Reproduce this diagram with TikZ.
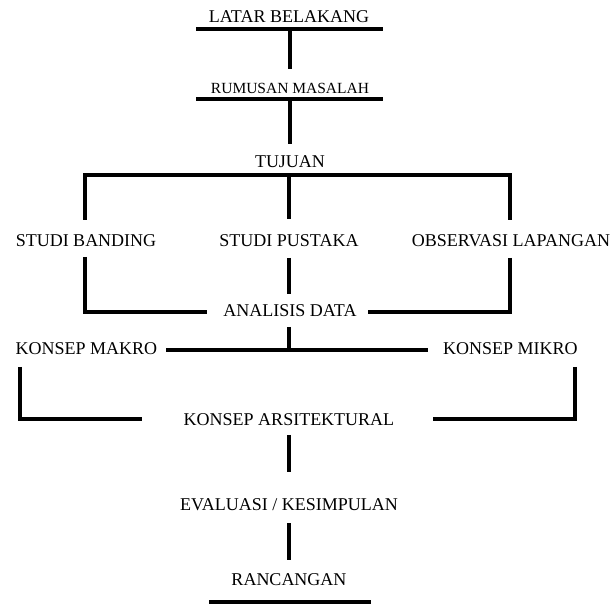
\documentclass[tikz,border=0pt]{standalone}
\usepackage{fontspec}
\setmainfont{Liberation Serif}
\begin{document}
\begin{tikzpicture}[x=1pt,y=-1pt,
  lbl/.style={anchor=base,inner sep=0pt,font=\fontsize{18}{20}\selectfont},
  lblsmall/.style={anchor=base,inner sep=0pt,font=\fontsize{15.5}{18}\selectfont},
  bar/.style={line width=4pt}]
\useasboundingbox (0,0) rectangle (614,604);
% nodes
\node[lbl] (lb) at (289,23) {LATAR BELAKANG};
\node[lblsmall] (rm) at (290,94) {RUMUSAN MASALAH};
\node[lbl] (tj) at (290,168) {TUJUAN};
\node[lbl] (sb) at (86,247) {STUDI BANDING};
\node[lbl] (sp) at (289,247) {STUDI PUSTAKA};
\node[lbl] (ol) at (511,247) {OBSERVASI LAPANGAN};
\node[lbl] (ad) at (290,317) {ANALISIS DATA};
\node[lbl] (kma) at (86.5,355) {KONSEP MAKRO};
\node[lbl] (kmi) at (510.5,355) {KONSEP MIKRO};
\node[lbl] (ka) at (289,425) {KONSEP ARSITEKTURAL};
\node[lbl] (ev) at (289,511) {EVALUASI / KESIMPULAN};
\node[lbl] (rc) at (289,585) {RANCANGAN};
% junction coordinates
\coordinate (lbL) at (196,29); \coordinate (lbR) at (383,29);
\coordinate (lbM) at (289.5,29); \coordinate (rmT) at (289.5,69);
\coordinate (rmL) at (196,99); \coordinate (rmR) at (383,99);
\coordinate (rmM) at (289.5,99); \coordinate (tjT) at (289.5,144);
\coordinate (sbT) at (85,220); \coordinate (tjL) at (85,175);
\coordinate (tjR) at (510,175); \coordinate (olT) at (510,220);
\coordinate (tjM) at (289,175); \coordinate (spT) at (289,219);
\coordinate (sbB) at (85,257); \coordinate (adBL) at (85,312); \coordinate (adL) at (207,312);
\coordinate (olB) at (510,258); \coordinate (adBR) at (510,312); \coordinate (adR) at (368,312);
\coordinate (spB) at (289,258); \coordinate (adT) at (289,294);
\coordinate (adB) at (289,327); \coordinate (kM) at (289,350);
\coordinate (kL) at (166,350); \coordinate (kR) at (428,350);
\coordinate (kmaB) at (19.5,367); \coordinate (kaBL) at (19.5,419.5); \coordinate (kaL) at (142,419.5);
\coordinate (kmiB) at (575,367); \coordinate (kaBR) at (575,419.5); \coordinate (kaR) at (433,419.5);
\coordinate (kaB) at (289,435); \coordinate (evT) at (289,472);
\coordinate (evB) at (289,523); \coordinate (rcT) at (289,560);
\coordinate (rcL) at (209,602); \coordinate (rcR) at (371,602);
% connectors
\draw[bar] (lbL) -- (lbR);
\draw[bar] (lbM) -- (rmT);
\draw[bar] (rmL) -- (rmR);
\draw[bar] (rmM) -- (tjT);
\draw[bar] (sbT) -- (tjL) -- (tjR) -- (olT);
\draw[bar] (tjM) -- (spT);
\draw[bar] (sbB) -- (adBL) -- (adL);
\draw[bar] (olB) -- (adBR) -- (adR);
\draw[bar] (spB) -- (adT);
\draw[bar] (adB) -- (kM);
\draw[bar] (kL) -- (kR);
\draw[bar] (kmaB) -- (kaBL) -- (kaL);
\draw[bar] (kmiB) -- (kaBR) -- (kaR);
\draw[bar] (kaB) -- (evT);
\draw[bar] (evB) -- (rcT);
\draw[bar] (rcL) -- (rcR);
\end{tikzpicture}
\end{document}
